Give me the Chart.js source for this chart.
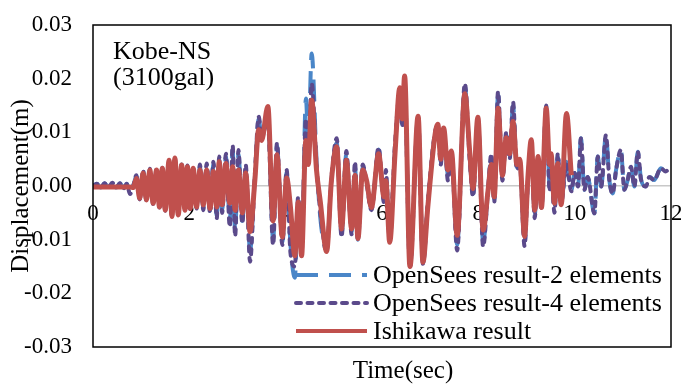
<!DOCTYPE html>
<html>
<head>
<meta charset="utf-8">
<script src="https://cdn.jsdelivr.net/npm/chart.js@4.4.1/dist/chart.umd.min.js"></script>
<style>
  html, body { margin: 0; padding: 0; background: #fff; }
  #wrap { width: 681px; height: 390px; }
</style>
</head>
<body>
<div id="wrap"><canvas id="dispChart" width="681" height="390"></canvas></div>
<script>
// time (sec) of the points (peaks / troughs)
const timeSec = [
  0.00, 0.08, 0.16, 0.24, 0.32, 0.40, 0.48, 0.56, 0.64, 0.70, 0.77, 0.84,
  0.90, 0.97, 1.04, 1.11, 1.18, 1.25, 1.32, 1.38, 1.44, 1.50, 1.58, 1.64,
  1.70, 1.77, 1.84, 1.91, 1.96, 2.02, 2.08, 2.15, 2.22, 2.29, 2.36, 2.43,
  2.50, 2.57, 2.62, 2.68, 2.76, 2.84, 2.90, 2.95, 3.02, 3.10, 3.17, 3.26,
  3.36, 3.44, 3.50, 3.63, 3.74, 3.82, 3.93, 4.02, 4.10, 4.19, 4.26, 4.33,
  4.42, 4.47, 4.54, 4.64, 4.72, 4.85, 4.95, 5.06, 5.16, 5.26, 5.37, 5.44,
  5.50, 5.60, 5.68, 5.78, 5.93, 6.04, 6.08, 6.16, 6.27, 6.37, 6.42, 6.47,
  6.58, 6.75, 6.85, 6.95, 7.10, 7.16, 7.22, 7.28, 7.37, 7.44, 7.56, 7.72,
  7.82, 7.89, 7.99, 8.10, 8.20, 8.27, 8.33, 8.41, 8.50, 8.58, 8.65, 8.72,
  8.80, 8.86, 8.96, 9.03, 9.10, 9.17, 9.24, 9.31, 9.41, 9.48, 9.51, 9.58,
  9.65, 9.72, 9.83, 9.93, 10.00, 10.07, 10.13, 10.20, 10.27, 10.41, 10.48, 10.55,
  10.65, 10.72, 10.79, 10.86, 10.96, 11.03, 11.10, 11.17, 11.24, 11.31, 11.38, 11.48,
  11.55, 11.65, 11.79, 11.89, 11.96
];

// OpenSees, 2 elements (m)
const opensees2 = [
  0.0000, 0.0004, -0.0003, 0.0005, -0.0002, 0.0006, -0.0003, 0.0005, -0.0004, 0.0004, -0.0012, 0.0002,
  0.0018, -0.0024, 0.0028, -0.0027, 0.0031, -0.0033, 0.0032, -0.0039, 0.0034, -0.0045, 0.0047, -0.0056,
  0.0051, -0.0053, 0.0040, -0.0044, 0.0037, -0.0042, 0.0035, -0.0040, 0.0036, -0.0040, 0.0038, -0.0046,
  0.0040, -0.0055, 0.0052, -0.0045, 0.0055, -0.0065, 0.0068, -0.0085, 0.0060, -0.0065, 0.0035, -0.0120,
  0.0015, 0.0125, 0.0090, 0.0130, -0.0100, 0.0075, -0.0105, 0.0025, -0.0110, -0.0171, -0.0025, -0.0125,
  0.0163, 0.0080, 0.0247, 0.0050, -0.0060, -0.0120, 0.0012, 0.0080, -0.0090, 0.0060, -0.0085, 0.0035,
  -0.0100, 0.0035, 0.0008, -0.0042, 0.0068, -0.0025, 0.0020, -0.0100, 0.0070, 0.0175, 0.0115, 0.0190,
  -0.0150, 0.0128, -0.0145, -0.0035, 0.0098, 0.0112, 0.0045, 0.0106, 0.0020, 0.0062, -0.0110, 0.0185,
  0.0055, -0.0015, 0.0126, -0.0105, -0.0010, 0.0055, -0.0025, 0.0170, 0.0015, 0.0095, 0.0055, 0.0150,
  0.0035, 0.0045, -0.0105, 0.0012, 0.0075, -0.0055, 0.0050, -0.0040, 0.0148, 0.0000, 0.0045, -0.0045,
  0.0055, -0.0030, 0.0045, -0.0008, 0.0024, -0.0001, 0.0089, -0.0007, 0.0017, -0.0051, 0.0055, -0.0001,
  0.0095, 0.0011, -0.0014, 0.0030, 0.0067, -0.0007, 0.0011, 0.0036, -0.0001, 0.0064, 0.0011, -0.0001,
  0.0017, 0.0011, 0.0033, 0.0027, 0.0033
];

// OpenSees, 4 elements (m)
const opensees4 = [
  0.0000, 0.0004, -0.0003, 0.0005, -0.0002, 0.0006, -0.0003, 0.0005, -0.0004, 0.0004, -0.0015, 0.0002,
  0.0020, -0.0025, 0.0030, -0.0028, 0.0032, -0.0034, 0.0034, -0.0040, 0.0035, -0.0046, 0.0046, -0.0055,
  0.0050, -0.0052, 0.0040, -0.0044, 0.0038, -0.0043, 0.0036, -0.0042, 0.0040, -0.0045, 0.0042, -0.0050,
  0.0045, -0.0060, 0.0055, -0.0050, 0.0060, -0.0076, 0.0076, -0.0094, 0.0067, -0.0070, 0.0040, -0.0141,
  0.0020, 0.0129, 0.0095, 0.0120, -0.0110, 0.0080, -0.0110, 0.0030, -0.0125, -0.0150, -0.0020, -0.0120,
  0.0125, 0.0060, 0.0191, 0.0040, -0.0050, -0.0118, 0.0015, 0.0089, -0.0095, 0.0065, -0.0090, 0.0045,
  -0.0100, 0.0040, 0.0005, -0.0045, 0.0072, -0.0030, 0.0030, -0.0100, 0.0080, 0.0170, 0.0110, 0.0185,
  -0.0150, 0.0125, -0.0145, -0.0030, 0.0100, 0.0112, 0.0040, 0.0105, 0.0010, 0.0060, -0.0120, 0.0191,
  0.0050, -0.0020, 0.0125, -0.0113, -0.0010, 0.0060, -0.0030, 0.0176, 0.0010, 0.0100, 0.0050, 0.0157,
  0.0030, 0.0040, -0.0112, 0.0010, 0.0070, -0.0060, 0.0050, -0.0040, 0.0150, -0.0010, 0.0040, -0.0050,
  0.0060, -0.0030, 0.0040, -0.0010, 0.0024, -0.0001, 0.0089, -0.0007, 0.0017, -0.0051, 0.0055, -0.0001,
  0.0095, 0.0011, -0.0014, 0.0030, 0.0067, -0.0007, 0.0011, 0.0036, -0.0001, 0.0064, 0.0011, -0.0001,
  0.0017, 0.0011, 0.0033, 0.0027, 0.0033
];

// Ishikawa result (m), ends just before 10 s
const ishikawa = [
  -0.0002, -0.0002, -0.0002, -0.0002, -0.0002, -0.0002, -0.0002, -0.0002, -0.0002, -0.0002, -0.0002, -0.0003,
  0.0014, -0.0023, 0.0024, -0.0026, 0.0030, -0.0032, 0.0030, -0.0039, 0.0033, -0.0045, 0.0048, -0.0057,
  0.0052, -0.0054, 0.0039, -0.0045, 0.0036, -0.0042, 0.0033, -0.0039, 0.0030, -0.0035, 0.0030, -0.0042,
  0.0027, -0.0039, 0.0045, -0.0035, 0.0042, -0.0032, 0.0036, -0.0045, 0.0030, -0.0050, 0.0024, -0.0085,
  0.0010, 0.0105, 0.0085, 0.0148, -0.0065, 0.0058, -0.0095, 0.0015, -0.0040, -0.0130, -0.0030, -0.0130,
  0.0085, 0.0040, 0.0160, 0.0030, -0.0030, -0.0122, 0.0010, 0.0073, -0.0080, 0.0048, -0.0080, 0.0020,
  -0.0098, 0.0030, 0.0010, -0.0040, 0.0060, -0.0020, 0.0010, -0.0105, 0.0060, 0.0183, 0.0125, 0.0205,
  -0.0150, 0.0130, -0.0142, -0.0040, 0.0095, 0.0115, 0.0050, 0.0108, 0.0030, 0.0065, -0.0092, 0.0172,
  0.0065, -0.0005, 0.0128, -0.0082, -0.0010, 0.0040, -0.0020, 0.0145, 0.0020, 0.0090, 0.0060, 0.0120,
  0.0040, 0.0050, -0.0094, 0.0017, 0.0086, -0.0045, 0.0055, -0.0040, 0.0145, 0.0040, 0.0060, -0.0032,
  0.0042, -0.0035, 0.0135, 0.0020, null, null, null, null, null, null, null, null,
  null, null, null, null, null, null, null, null, null, null, null, null,
  null, null, null, null, null
];

const seriesNames = ["OpenSees result-2 elements", "OpenSees result-4 elements", "Ishikawa result"];
const xTickStep = 2;
const yTickStep = 0.01;

const serif = "'Liberation Serif', 'Times New Roman', serif";

function toPoints(values) {
  return timeSec.map((t, i) => ({ x: t, y: values[i] }));
}

// frame around the plot, axis title, record note and the legend
const frameAndNotes = {
  id: "frameAndNotes",
  afterDraw(chart) {
    const ctx = chart.ctx;
    const a = chart.chartArea;
    ctx.save();
    ctx.strokeStyle = "#000";
    ctx.lineWidth = 1.5;
    ctx.strokeRect(a.left, a.top, a.right - a.left, a.bottom - a.top);

    ctx.fillStyle = "#000";
    ctx.font = "25px " + serif;
    ctx.textBaseline = "middle";
    ctx.textAlign = "center";
    ctx.fillText("Time(sec)", 403, 371);

    ctx.font = "26px " + serif;
    ctx.textAlign = "left";
    ctx.fillText("Kobe-NS", 113, 52);
    ctx.fillText("(3100gal)", 113, 78);

    // legend rows
    const rowY = [275, 303, 331];
    chart.data.datasets.forEach((ds, i) => {
      const y = rowY[i];
      ctx.save();
      ctx.strokeStyle = ds.borderColor;
      ctx.lineWidth = 4;
      ctx.lineCap = ds.borderCapStyle || "butt";
      ctx.setLineDash(ds.borderDash || []);
      ctx.beginPath();
      ctx.moveTo(296, y);
      ctx.lineTo(367, y);
      ctx.stroke();
      ctx.restore();
      ctx.fillText(ds.label, 373, y + 1);
    });
    ctx.restore();
  }
};

new Chart(document.getElementById("dispChart"), {
  type: "line",
  data: {
    datasets: [
      {
        label: seriesNames[0],
        data: toPoints(opensees2),
        borderColor: "#4a86c8",
        borderWidth: 4,
        borderDash: [22, 11],
        order: 3
      },
      {
        label: seriesNames[1],
        data: toPoints(opensees4),
        borderColor: "#5b4a8b",
        borderWidth: 4,
        borderDash: [5, 6.5],
        borderCapStyle: "round",
        order: 2
      },
      {
        label: seriesNames[2],
        data: toPoints(ishikawa),
        borderColor: "#c0504d",
        borderWidth: 5,
        order: 1
      }
    ]
  },
  options: {
    responsive: false,
    animation: false,
    devicePixelRatio: 1,
    elements: {
      point: { radius: 0 },
      line: { tension: 0.4, cubicInterpolationMode: "monotone", fill: false }
    },
    layout: { padding: { top: 25, right: 10, left: 0, bottom: 0 } },
    plugins: {
      legend: { display: false },
      tooltip: { enabled: false }
    },
    scales: {
      x: {
        type: "linear",
        position: "bottom",
        min: 0,
        max: 12,
        grid: { display: false },
        border: { display: false },
        ticks: { display: false },
        afterFit: (scale) => {
          scale.height = 43;
          scale.paddingLeft = 0;
          scale.paddingRight = 0;
        }
      },
      xZero: {
        type: "linear",
        axis: "x",
        position: { y: 0 },
        min: 0,
        max: 12,
        z: 1,
        grid: { display: false, drawTicks: false },
        border: { display: false },
        ticks: {
          stepSize: xTickStep,
          padding: 14,
          color: "#000",
          font: { family: serif, size: 23 },
          maxRotation: 0
        },
        afterFit: (scale) => {
          scale.paddingLeft = 0;
          scale.paddingRight = 0;
        }
      },
      y: {
        type: "linear",
        min: -0.03,
        max: 0.03,
        grid: {
          drawTicks: false,
          lineWidth: 1.5,
          color: (c) => (Math.abs(c.tick.value) < 1e-9 ? "#c8c8c8" : "rgba(0,0,0,0)")
        },
        border: { display: false },
        ticks: {
          stepSize: yTickStep,
          padding: 21,
          color: "#000",
          font: { family: serif, size: 23 },
          callback: (v) => (Math.abs(v) < 1e-9 ? "0.00" : v.toFixed(2))
        },
        title: {
          display: true,
          text: "Displacement(m)",
          color: "#000",
          font: { family: serif, size: 25 },
          padding: { top: 6, bottom: 0 }
        },
        afterFit: (scale) => {
          scale.width = 93;
          scale.paddingTop = 0;
          scale.paddingBottom = 0;
        }
      }
    }
  },
  plugins: [frameAndNotes]
});
</script>
</body>
</html>
